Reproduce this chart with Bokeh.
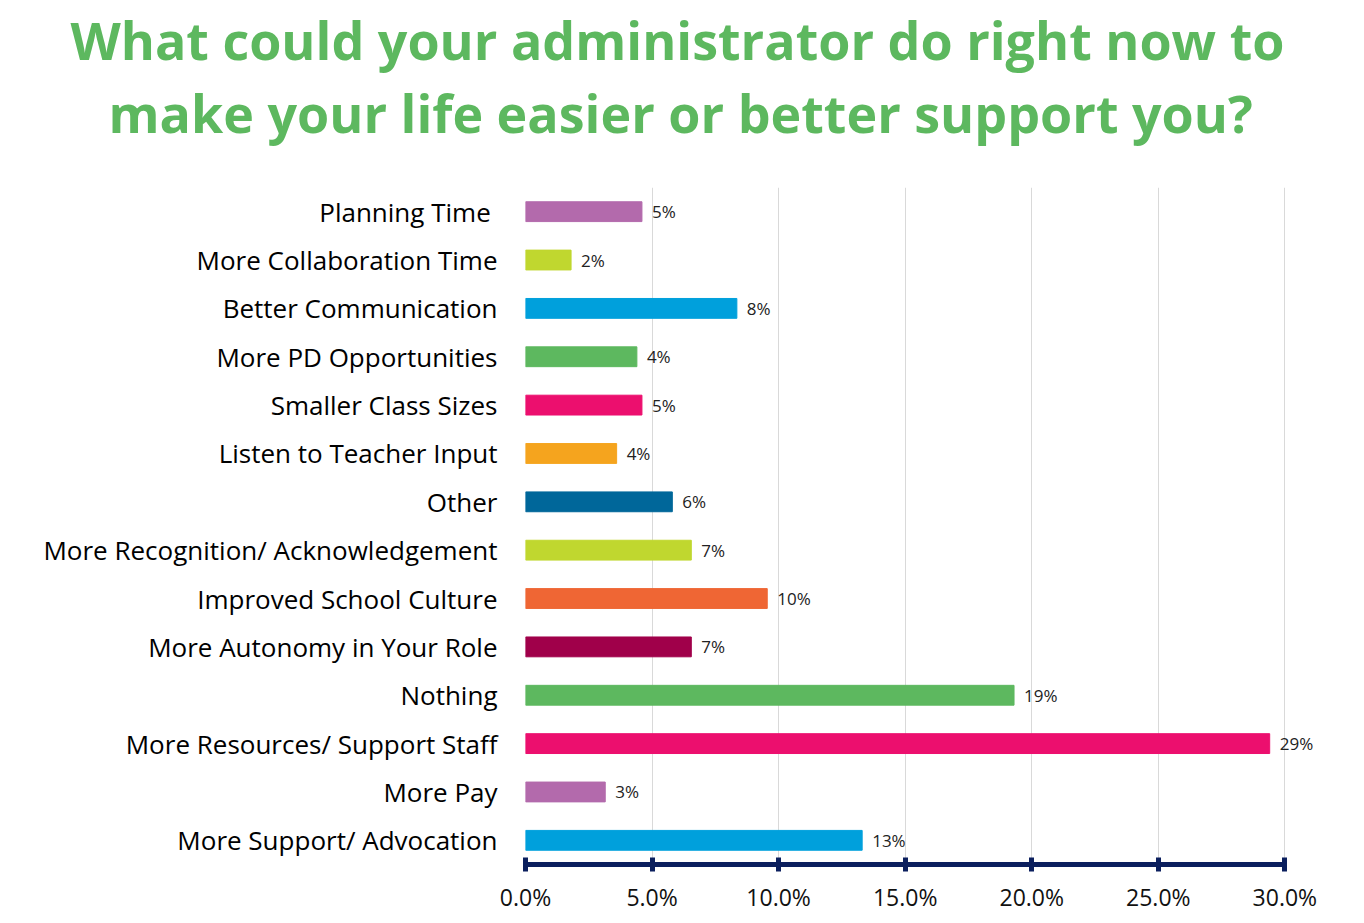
from bokeh.plotting import figure
from bokeh.models import ColumnDataSource, FactorRange, FixedTicker, PrintfTickFormatter, Title
from bokeh.core.properties import value
from bokeh.embed import file_html
from bokeh.resources import INLINE

title_lines = ["What could your administrator do right now to",
               "make your life easier or better support you?"]

categories = ["Planning Time ", "More Collaboration Time", "Better Communication",
              "More PD Opportunities", "Smaller Class Sizes", "Listen to Teacher Input",
              "Other", "More Recognition/ Acknowledgement", "Improved School Culture",
              "More Autonomy in Your Role", "Nothing", "More Resources/ Support Staff",
              "More Pay", "More Support/ Advocation"]
values = [4.6, 1.8, 8.35, 4.4, 4.6, 3.6, 5.8, 6.55, 9.55, 6.55, 19.3, 29.4, 3.15, 13.3]
labels = ["5%", "2%", "8%", "4%", "5%", "4%", "6%", "7%", "10%", "7%", "19%", "29%", "3%", "13%"]
colors = ["#B36AAC", "#C0D72F", "#00A0DC", "#5DB85F", "#EC0F6E", "#F5A41E", "#00679A",
          "#C0D72F", "#EF6634", "#A0004A", "#5DB85F", "#EC0F6E", "#B36AAC", "#00A0DC"]
x_ticks = [0, 5, 10, 15, 20, 25, 30]

src = ColumnDataSource(dict(cat=categories, val=values, lab=labels, col=colors))

p = figure(width=1348, height=916, output_backend="svg", toolbar_location=None,
           y_range=FactorRange(*reversed(categories), range_padding=0),
           x_range=(0, 32),
           min_border_left=525, min_border_right=13, min_border_top=187, min_border_bottom=52)
p.outline_line_color = None
p.background_fill_color = "white"

p.hbar(y="cat", right="val", left=0, height=0.41, color="col", source=src)
p.text(x="val", y="cat", text="lab", source=src, x_offset=10,
       text_font=value("Open Sans"), text_font_size="17px", text_color="#222222",
       text_baseline="middle", text_align="left")

p.xaxis.bounds = (0, 30)
p.xaxis.ticker = FixedTicker(ticks=x_ticks)
p.xaxis.formatter = PrintfTickFormatter(format="%.1f%%")
p.xaxis.axis_line_color = "#0B1F5E"
p.xaxis.axis_line_width = 5
p.xaxis.major_tick_line_color = "#0B1F5E"
p.xaxis.major_tick_line_width = 5
p.xaxis.major_tick_in = 7
p.xaxis.major_tick_out = 7
p.xaxis.minor_tick_line_color = None
p.xaxis.major_label_text_font = "Open Sans"
p.xaxis.major_label_text_font_size = "23px"
p.xaxis.major_label_text_color = "#111111"
p.xaxis.major_label_standoff = 9

p.yaxis.axis_line_color = None
p.yaxis.major_tick_line_color = None
p.yaxis.minor_tick_line_color = None
p.yaxis.major_label_text_font = "Open Sans"
p.yaxis.major_label_text_font_size = "26px"
p.yaxis.major_label_text_color = "#000000"
p.yaxis.major_label_standoff = 22

p.xgrid.bounds = (0, 30)
p.xgrid.grid_line_color = "#D9D9D9"
p.xgrid.grid_line_width = 1
p.ygrid.grid_line_color = None

# spacer between the title block and the plot area
p.add_layout(Title(text=" ", text_font_size="1px", standoff=37), "above")
offsets = [-455, -417]
for i in [1, 0]:
    p.add_layout(Title(text=title_lines[i], align="left", offset=offsets[i],
                       standoff=0,
                       text_font="Open Sans", text_font_style="bold",
                       text_font_size="52px", text_color="#5DB85F"), "above")

open("out.html", "w").write(file_html(p, INLINE))
